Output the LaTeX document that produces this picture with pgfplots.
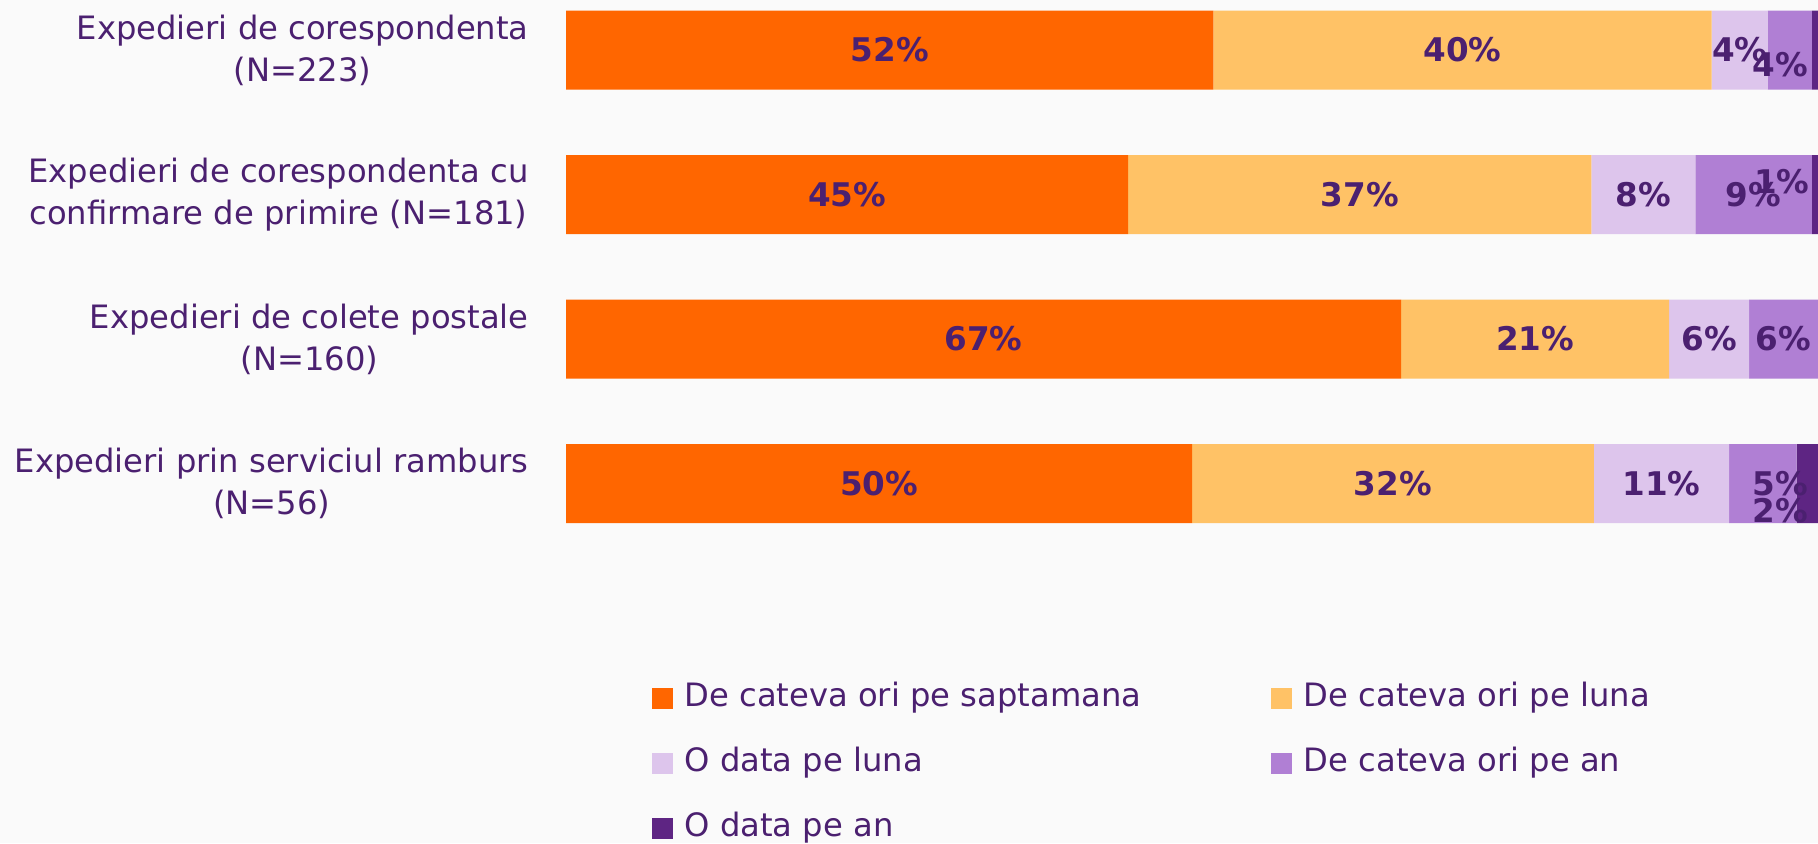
\documentclass[border=0pt]{standalone}
\usepackage{fontspec}
\setmainfont{DejaVu Sans}
\usepackage{pgfplots}
\pgfplotsset{compat=1.18}
\definecolor{cA}{HTML}{FF6600}
\definecolor{cB}{HTML}{FFC266}
\definecolor{cC}{HTML}{DDC5EC}
\definecolor{cD}{HTML}{B07FD4}
\definecolor{cE}{HTML}{5E2583}
\definecolor{txt}{HTML}{4B2070}
\definecolor{bg}{HTML}{FAFAFA}
\begin{document}
\begin{tikzpicture}
\path[use as bounding box, fill=bg] (0,0) rectangle (909pt,421.5pt);
\begin{axis}[
  at={(283pt,155.9pt)}, anchor=south west,
  scale only axis, width=626pt, height=264.4pt,
  xbar stacked, bar width=39.5pt,
  xmin=0, xmax=100, ymin=-0.33, ymax=3.33, y dir=reverse,
  ytick={0,1,2,3},
  yticklabels={{Expedieri de corespondenta\\(N=223)},
               {Expedieri de corespondenta cu\\confirmare de primire (N=181)},
               {Expedieri de colete postale\\(N=160)},
               {Expedieri prin serviciul ramburs\\(N=56)}},
  yticklabel style={align=center, font=\fontsize{16.1}{20.9}\selectfont, text=txt, inner sep=0pt, xshift=-18.5pt},
  xtick=\empty,
  major tick length=0pt,
  axis line style={draw=none},
  clip=false,
  legend columns=2,
  legend cell align=left,
  legend image code/.code={\fill[#1] (0pt,-5.25pt) rectangle (10.5pt,5.25pt);},
  legend style={at={(0.0687,-0.287)}, anchor=north west, draw=none, fill=none,
    inner sep=0pt, outer sep=0pt,
    font=\fontsize{16.1}{19}\selectfont, text=txt,
    nodes={inner sep=0pt, text height=12pt, text depth=4pt},
    row sep=16.5pt,
    /tikz/every odd column/.style={column sep=5.75pt},
    /tikz/every even column/.style={column sep=65pt}},
]
\addplot[fill=cA, draw=none] coordinates {(51.7,0) (44.9,1) (66.7,2) (50.0,3)};
\addplot[fill=cB, draw=none] coordinates {(39.8,0) (37.0,1) (21.4,2) (32.1,3)};
\addplot[fill=cC, draw=none] coordinates {(4.5,0) (8.3,1) (6.4,2) (10.8,3)};
\addplot[fill=cD, draw=none] coordinates {(3.5,0) (9.3,1) (5.5,2) (5.4,3)};
\addplot[fill=cE, draw=none] coordinates {(0.5,0) (0.5,1) (0,2) (1.7,3)};
\legend{De cateva ori pe saptamana, De cateva ori pe luna, O data pe luna, De cateva ori pe an, O data pe an}
\end{axis}
\begin{axis}[
  at={(283pt,155.9pt)}, anchor=south west,
  scale only axis, width=626pt, height=264.4pt,
  xmin=0, xmax=100, ymin=-0.33, ymax=3.33, y dir=reverse,
  hide axis, clip=false,
]
\addplot[draw=none, mark=none, nodes near coords, nodes near coords align=center,
  point meta=explicit symbolic,
  every node near coord/.append style={font=\fontsize{16.3}{18}\selectfont\bfseries, text=txt, inner sep=0pt}]
  coordinates {
  (25.85,0) [52\%] (71.6,0) [40\%] (93.75,0) [4\%] (97.0,0.10) [4\%]
  (22.45,1) [45\%] (63.4,1) [37\%] (86.05,1) [8\%] (94.85,1) [9\%] (97.1,0.91) [1\%]
  (33.35,2) [67\%] (77.4,2) [21\%] (91.3,2) [6\%] (97.25,2) [6\%]
  (25,3) [50\%] (66.05,3) [32\%] (87.5,3) [11\%] (97.0,3) [5\%] (97.0,3.19) [2\%]
  };
\end{axis}
\end{tikzpicture}
\end{document}
